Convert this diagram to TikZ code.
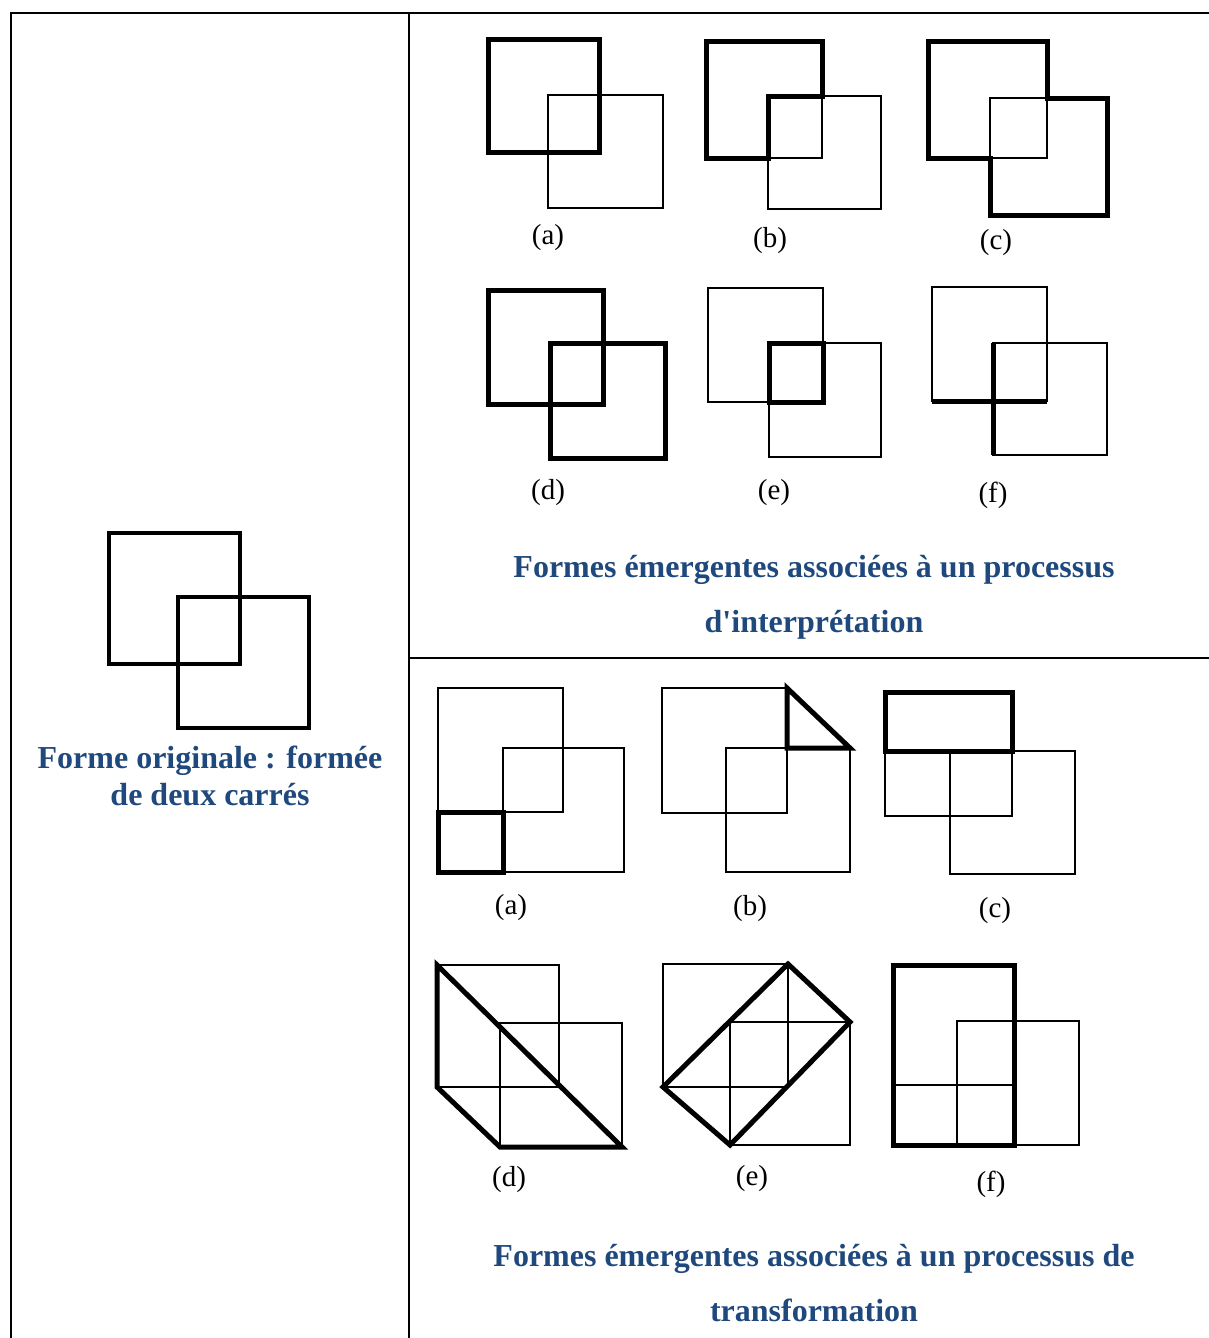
\documentclass[tikz,border=0pt]{standalone}
\usepackage{fontspec}
\setmainfont{Liberation Serif}[Ligatures=TeXOff]
\usepackage{tikz}
\definecolor{bleu}{RGB}{31,73,125}
\tikzset{
    cadre/.style={line width=2pt},
    fin/.style={line width=1.8pt},
    gras/.style={line width=5pt, line join=miter},
    orig/.style={line width=4pt},
    legende/.style={
        font=\bfseries\fontsize{32}{55}\selectfont,
        text=bleu,
        align=center
    },
    etiquette/.style={font=\fontsize{29}{30}\selectfont}
}

\begin{document}
\begin{tikzpicture}[
    x=1pt,
    y=-1pt
]
    \useasboundingbox (0,0) rectangle (1209,1338);

    % Tableau
    \draw[cadre] (11,1338) -- (11,13) -- (1209,13);
    \draw[cadre] (409,13) -- (409,1338);
    \draw[cadre] (409,658) -- (1209,658);

    % Forme originale
    \draw[orig] (109,533) rectangle (240,664);
    \draw[orig] (178,597) rectangle (309,728);
    \node[legende, font=\bfseries\fontsize{32}{37}\selectfont]
        (original) at (210,776) {Forme originale : formée\\de deux carrés};

    % Interpretation (a)
    \draw[fin]  (548,95) rectangle (663,208);
    \draw[gras] (488,40) rectangle (599,152);
    \node[etiquette] (ia) at (548,238) {(a)};

    % Interpretation (b)
    \draw[fin]  (706,42) rectangle (822,158);
    \draw[fin]  (768,96) rectangle (881,209);
    \draw[gras] (706,42) -- (822,42) -- (822,96) -- (768,96)
                -- (768,158) -- (706,158) -- cycle;
    \node[etiquette] (ib) at (770,241) {(b)};

    % Interpretation (c)
    \draw[fin]  (928,42) rectangle (1047,158);
    \draw[fin]  (990,98) rectangle (1107,215);
    \draw[gras] (928,42) -- (1047,42) -- (1047,98) -- (1107,98)
                -- (1107,215) -- (990,215) -- (990,158) -- (928,158) -- cycle;
    \node[etiquette] (ic) at (996,243) {(c)};

    % Interpretation (d)
    \draw[gras] (488,290) rectangle (603,404);
    \draw[gras] (550,343) rectangle (665,458);
    \node[etiquette] (id) at (548,493) {(d)};

    % Interpretation (e)
    \draw[fin]  (708,288) rectangle (823,402);
    \draw[fin]  (769,343) rectangle (881,457);
    \draw[gras] (769,343) rectangle (823,402);
    \node[etiquette] (ie) at (774,493) {(e)};

    % Interpretation (f)
    \draw[fin]  (932,287) rectangle (1047,401);
    \draw[fin]  (993,343) rectangle (1107,455);
    \draw[gras] (932,401) -- (1047,401);
    \draw[gras] (993,343) -- (993,455);
    \node[etiquette] (if) at (993,495) {(f)};

    \node[legende] (interp) at (814,597)
        {Formes émergentes associées à un processus\\d'interprétation};

    % Transformation (a)
    \draw[fin]  (438,688) rectangle (563,812);
    \draw[fin]  (503,748) rectangle (624,872);
    \draw[gras] (438,812) rectangle (503,872);
    \node[etiquette] (ta) at (511,908) {(a)};

    % Transformation (b)
    \draw[fin]  (662,688) rectangle (787,813);
    \draw[fin]  (726,748) rectangle (850,872);
    \draw[gras] (787,688) -- (787,748) -- (850,748) -- cycle;
    \node[etiquette] (tb) at (750,909) {(b)};

    % Transformation (c)
    \draw[fin]  (885,692) rectangle (1012,816);
    \draw[fin]  (950,751) rectangle (1075,874);
    \draw[gras] (885,692) rectangle (1012,751);
    \node[etiquette] (tc) at (995,911) {(c)};

    % Transformation (d)
    \draw[fin]  (437,965) rectangle (559,1087);
    \draw[fin]  (500,1023) rectangle (622,1147);
    \draw[gras] (437,965) -- (622,1147) -- (500,1147) -- (437,1087) -- cycle;
    \node[etiquette] (td) at (509,1180) {(d)};

    % Transformation (e)
    \draw[fin]  (663,964) rectangle (788,1087);
    \draw[fin]  (730,1022) rectangle (850,1145);
    \draw[gras] (663,1087) -- (788,964) -- (850,1022) -- (730,1145) -- cycle;
    \node[etiquette] (te) at (752,1179) {(e)};

    % Transformation (f)
    \draw[fin]  (893,965) rectangle (1014,1085);
    \draw[fin]  (957,1021) rectangle (1079,1145);
    \draw[gras] (893,965) rectangle (1014,1145);
    \node[etiquette] (tf) at (991,1184) {(f)};

    \node[legende] (transf) at (814,1283)
        {Formes émergentes associées à un processus de\\transformation};

\end{tikzpicture}
\end{document}
